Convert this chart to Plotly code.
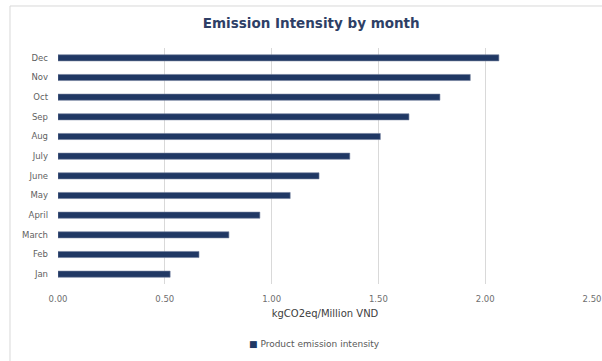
import plotly.graph_objects as go

months = ["Jan", "Feb", "March", "April", "May", "June", "July", "Aug", "Sep", "Oct", "Nov", "Dec"]
intensity = [0.525, 0.66, 0.80, 0.945, 1.087, 1.222, 1.366, 1.509, 1.643, 1.788, 1.93, 2.064]
tick_vals = [0, 0.5, 1.0, 1.5, 2.0, 2.5]
tick_text = ["0.00", "0.50", "1.00", "1.50", "2.00", "2.50"]
series_name = "Product emission intensity"

navy = "#203864"
FONT = "DejaVu Sans, Verdana, sans-serif"

fig = go.Figure()
fig.add_trace(go.Bar(
    x=intensity, y=months, orientation="h",
    name=series_name, showlegend=False,
    marker=dict(color=navy, line=dict(color="#6b7a99", width=0.6)),
))

fig.update_layout(
    width=602, height=361,
    margin=dict(l=58, r=10, t=48, b=77, autoexpand=False),
    paper_bgcolor="white", plot_bgcolor="white",
    font=dict(family=FONT, color="#595959", size=9),
    bargap=0.69,
    title=dict(text="<b>Emission Intensity by month</b>", xref="container", x=0.517, xanchor="center",
               y=0.935, yanchor="middle",
               font=dict(size=13.5, color="#2e3f66", family=FONT)),
    xaxis=dict(range=[0, 2.5], tickvals=tick_vals, ticktext=tick_text, automargin=False,
               showgrid=True, gridcolor="#d9d9d9", gridwidth=1,
               zeroline=False, showline=False, ticks="", ticklabelstandoff=8,
               tickfont=dict(size=8.5, color="#6e6e6e"),
               title=dict(text="kgCO2eq/Million VND", font=dict(size=10, color="#404040"), standoff=7)),
    yaxis=dict(showgrid=False, zeroline=False, ticks="", showline=False, automargin=False,
               tickfont=dict(size=8.5, color="#5f5f5f"), ticklabelstandoff=9),
    showlegend=False,
    annotations=[dict(
        text=f"<span style='color:{navy}'>■</span> {series_name}",
        xref="paper", yref="paper", x=0.48, y=-0.255, xanchor="center", yanchor="middle",
        showarrow=False, font=dict(size=9, color="#595959"))],
    shapes=[dict(type="rect", xref="paper", yref="paper",
                 x0=-0.0899, x1=1.05, y0=-0.4, y1=1.178,
                 line=dict(color="#d9d9d9", width=1), layer="below")],
)

fig.write_html("out.html")
